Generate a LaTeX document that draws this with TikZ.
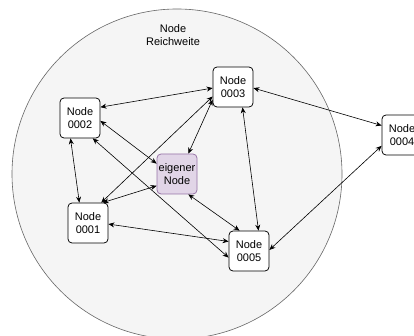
\documentclass[tikz,border=0pt]{standalone}
\usepackage{fontspec}
\setmainfont{Liberation Sans}
\usetikzlibrary{arrows.meta}
\definecolor{rangefill}{HTML}{F5F5F5}
\definecolor{rangeline}{HTML}{666666}
\definecolor{ownfill}{HTML}{E1D5E7}
\definecolor{ownline}{HTML}{9673A6}

\begin{document}
\begin{tikzpicture}[x=1pt, y=-1pt, font=\fontsize{11}{13}\selectfont,
  peer/.style={draw, fill=white, rounded corners=4pt, line width=0.75pt,
    minimum width=40pt, minimum height=40pt, align=center, inner sep=0.5pt},
  ownpeer/.style={peer, draw=ownline, fill=ownfill},
  link/.style={{Stealth[length=6pt,width=5pt]}-{Stealth[length=6pt,width=5pt]}, line width=0.6pt}]
\useasboundingbox (0,0) rectangle (414,336);
\clip (0,0) rectangle (414,336);
% ---- range of the own node ----
\draw[rangeline, fill=rangefill, line width=0.6pt] (177,174) circle (165);
\node[align=center] (range) at (173,35) {Node\\Reichweite};
% ---- nodes ----
\node[ownpeer] (own) at (177,174) {eigener\\Node};
\node[peer] (n1) at (88,223) {Node\\0001};
\node[peer] (n2) at (80,118) {Node\\0002};
\node[peer] (n3) at (233,87) {Node\\0003};
\node[peer] (n4) at (402,135) {Node\\0004};
\node[peer] (n5) at (249,251) {Node\\0005};
% ---- links ----
\draw[link] (n2.28) -- (n3.183);
\draw[link] (n2.245) -- (n1.113);
\draw[link] (n2.352) -- (own.153);
\draw[link] (n2.302) -- (n5.198);
\draw[link] (n3.205) -- (n1.57);
\draw[link] (n3.212) -- (own.61);
\draw[link] (n3.295) -- (n5.65);
\draw[link] (n3.357) -- (n4.155);
\draw[link] (n4.208) -- (n5.3);
\draw[link] (own.210) -- (n1.54);
\draw[link] (own.299) -- (n5.115);
\draw[link] (n1.357) -- (n5.155);
\end{tikzpicture}
\end{document}
